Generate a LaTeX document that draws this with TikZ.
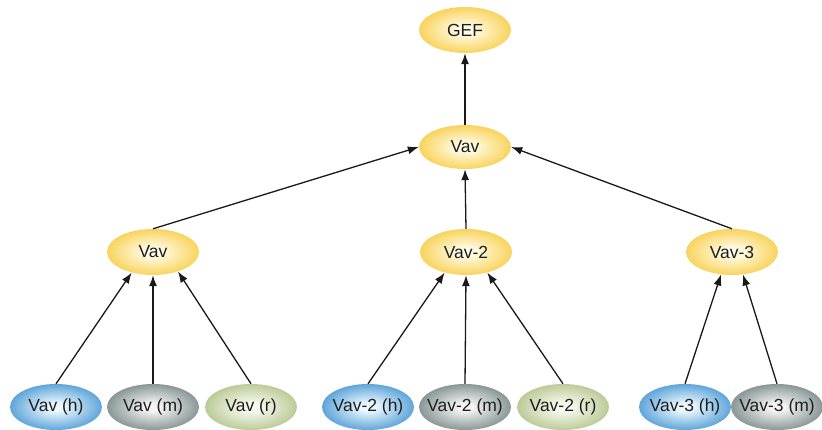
\documentclass[tikz,border=0pt]{standalone}
\usepackage{fontspec}
\setmainfont{Liberation Sans}
\usetikzlibrary{shapes.geometric,arrows.meta}

% gradient colours: light centre, saturated rim
\definecolor{yelin}{RGB}{255,252,232}
\definecolor{yelout}{RGB}{245,190,20}
\definecolor{bluin}{RGB}{236,248,254}
\definecolor{bluout}{RGB}{22,122,198}
\definecolor{gryin}{RGB}{244,245,244}
\definecolor{gryout}{RGB}{82,102,102}
\definecolor{grnin}{RGB}{248,250,240}
\definecolor{grnout}{RGB}{156,178,106}
\definecolor{txt}{RGB}{30,30,30}

\pgfdeclareradialshading{yelshade}{\pgfpoint{0bp}{0bp}}{color(0bp)=(yelin); color(4bp)=(yelin); color(36bp)=(yelout); color(100bp)=(yelout)}
\pgfdeclareradialshading{blushade}{\pgfpoint{0bp}{0bp}}{color(0bp)=(bluin); color(4bp)=(bluin); color(36bp)=(bluout); color(100bp)=(bluout)}
\pgfdeclareradialshading{gryshade}{\pgfpoint{0bp}{0bp}}{color(0bp)=(gryin); color(4bp)=(gryin); color(36bp)=(gryout); color(100bp)=(gryout)}
\pgfdeclareradialshading{grnshade}{\pgfpoint{0bp}{0bp}}{color(0bp)=(grnin); color(4bp)=(grnin); color(36bp)=(grnout); color(100bp)=(grnout)}

% fixed-size ellipse; the label is set in a zero-width box so it never widens the shape
\newcommand\lbl[1]{\makebox[0pt]{#1}}

\tikzset{
  blob/.style={ellipse, minimum width=92pt, minimum height=46pt, inner sep=0pt,
               font=\fontsize{17.5}{20}\selectfont, text=txt},
  yel/.style={blob, shading=yelshade},
  blu/.style={blob, shading=blushade},
  gry/.style={blob, shading=gryshade},
  grn/.style={blob, shading=grnshade},
  link/.style={line width=1.3pt, draw=black!90, -{Latex[length=11pt,width=8pt]}}
}

\begin{document}
\begin{tikzpicture}[x=1pt,y=-1pt]
\useasboundingbox (0,0) rectangle (822,430);

% root and middle hub
\node[yel] (gef) at (465,30) {\lbl{GEF}};
\node[yel, minimum height=44pt] (hub) at (465,147) {\lbl{Vav}};

% second level
\node[yel] (v1) at (153,252) {\lbl{Vav}};
\node[yel] (v2) at (466,252) {\lbl{Vav-2}};
\node[yel] (v3) at (732,252) {\lbl{Vav-3}};

% leaves
\node[blu] (v1h) at (56,407) {\lbl{Vav (h)}};
\node[gry] (v1m) at (153,407) {\lbl{Vav (m)}};
\node[grn] (v1r) at (251,407) {\lbl{Vav (r)}};
\node[blu] (v2h) at (368,407) {\lbl{Vav-2 (h)}};
\node[gry] (v2m) at (465,407) {\lbl{Vav-2 (m)}};
\node[grn] (v2r) at (563,407) {\lbl{Vav-2 (r)}};
\node[blu] (v3h) at (685,407) {\lbl{Vav-3 (h)}};
\node[gry] (v3m) at (777,407) {\lbl{Vav-3 (m)}};

% connectors
\draw[link] (hub.north) -- (gef.south);
\draw[link] (v1.north) -- (hub.west);
\draw[link] (v2.north) -- (hub.south);
\draw[link] (v3.north) -- (hub.east);

\draw[link] (v1h.north) -- (v1.224);
\draw[link] (v1m.north) -- (v1.south);
\draw[link] (v1r.north) -- (v1.322);

\draw[link] (v2h.north) -- (v2.224);
\draw[link] (v2m.north) -- (v2.south);
\draw[link] (v2r.north) -- (v2.316);

\draw[link] (v3h.north) -- (v3.244);
\draw[link] (v3m.north) -- (v3.296);
\end{tikzpicture}
\end{document}
